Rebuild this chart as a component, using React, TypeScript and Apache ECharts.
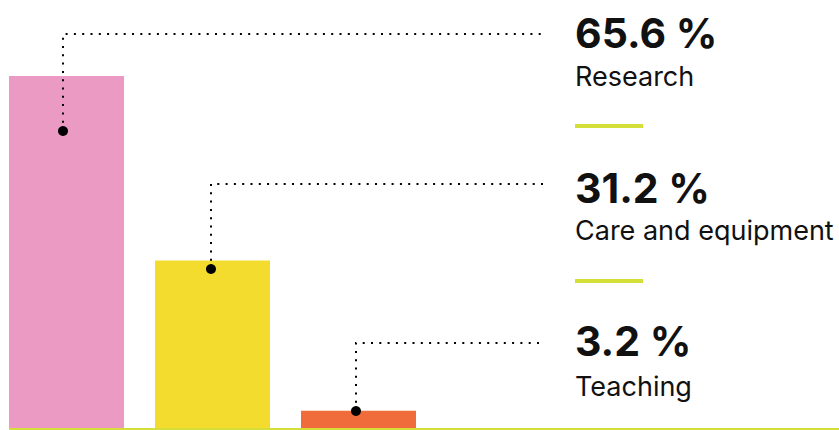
import React, { useEffect, useRef } from "react";
import * as echarts from "echarts";

const categories = ["Research", "Care and equipment", "Teaching"];
const shares = [65.6, 31.2, 3.2];
const barColors = ["#EA9AC3", "#F3DC2D", "#F06C3A"];

const FONT = "Inter, 'Noto Sans', sans-serif";
const ACCENT = "#D4DF3A";

export default function App() {
  const ref = useRef<HTMLDivElement>(null);
  useEffect(() => {
    document.body.style.margin = "0";
    const chart = echarts.init(ref.current!, null, { renderer: "svg" });

    // annotation layout (dot position, elbow y, label tops)
    const anchors = [
      { x: 63, dotY: 131, elbowY: 34, valueY: 12, nameY: 63 },
      { x: 211, dotY: 269, elbowY: 184, valueY: 167, nameY: 217 },
      { x: 356, dotY: 411, elbowY: 343, valueY: 320, nameY: 373 },
    ];
    const graphic: any[] = [
      { type: "rect", shape: { x: 9, y: 428, width: 830, height: 2 }, style: { fill: ACCENT }, z: 10 },
      { type: "rect", shape: { x: 575, y: 124, width: 68, height: 4 }, style: { fill: ACCENT } },
      { type: "rect", shape: { x: 575, y: 279, width: 68, height: 4 }, style: { fill: ACCENT } },
    ];
    anchors.forEach((a, i) => {
      graphic.push({
        type: "polyline",
        shape: { points: [[a.x, a.dotY], [a.x, a.elbowY], [545, a.elbowY]] },
        style: { stroke: "#000", lineWidth: 2, lineDash: [2, 6.3], fill: null },
        z: 20,
      });
      graphic.push({ type: "circle", shape: { cx: a.x, cy: a.dotY, r: 5 }, style: { fill: "#000" }, z: 21 });
      graphic.push({
        type: "text",
        x: 575,
        y: a.valueY,
        style: {
          text: shares[i].toFixed(1) + " %",
          font: `700 41px ${FONT}`,
          fill: "#111",
          verticalAlign: "top",
        },
      });
      graphic.push({
        type: "text",
        x: 575,
        y: a.nameY,
        style: {
          text: categories[i],
          font: `400 27px ${FONT}`,
          fill: "#111",
          verticalAlign: "top",
        },
      });
    });

    const pitch = 146;
    const firstCenter = 66.5;
    chart.setOption({
      animation: false,
      grid: { left: 0, right: 0, top: 76, bottom: 2 },
      xAxis: {
        type: "value",
        min: -firstCenter / pitch,
        max: (839 - firstCenter) / pitch,
        show: false,
      },
      yAxis: { type: "value", min: 0, max: 65.6, show: false },
      series: [
        {
          type: "bar",
          barWidth: 115,
          data: shares.map((v, i) => ({ value: [i, v], name: categories[i], itemStyle: { color: barColors[i] } })),
        },
      ],
      graphic,
    });
    return () => chart.dispose();
  }, []);
  return <div ref={ref} style={{ width: 839, height: 430 }} />;
}
